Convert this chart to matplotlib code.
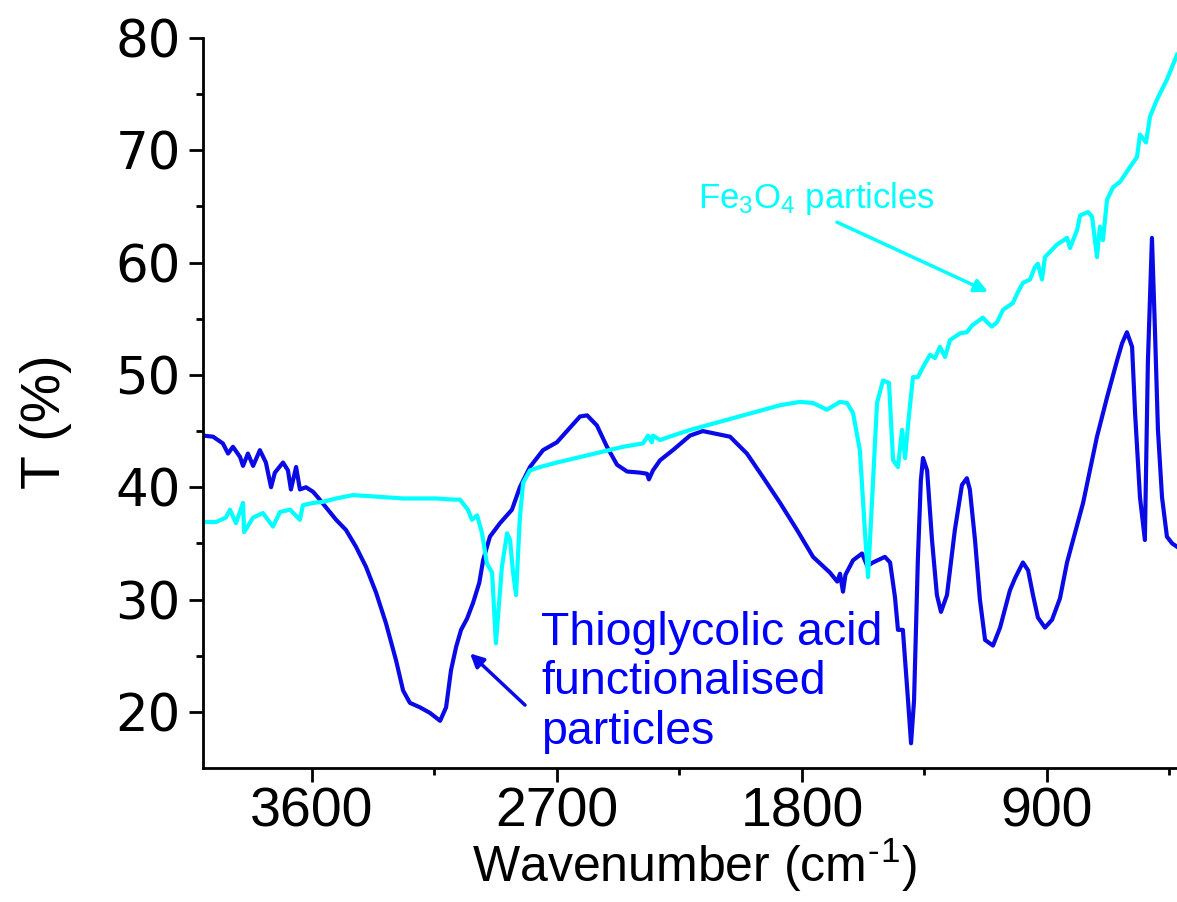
import matplotlib
matplotlib.use('Agg')
import matplotlib.pyplot as plt
from matplotlib.ticker import FixedLocator

# ---------------- data ----------------
blue_wn = [4000, 3963, 3927, 3908, 3890, 3864, 3853, 3835, 3816, 3791, 3769, 3750, 3736, 3706,
           3688, 3677, 3658, 3644, 3622, 3596, 3578, 3548, 3511, 3475, 3438, 3401, 3364, 3328,
           3291, 3265, 3240, 3203, 3166, 3129, 3107, 3089, 3070, 3052, 3030, 3008, 2985, 2971,
           2946, 2909, 2865, 2836, 2799, 2751, 2700, 2652, 2615, 2589, 2553, 2516, 2479, 2442,
           2395, 2369, 2362, 2347, 2321, 2274, 2211, 2164, 2064, 2002, 1943, 1880, 1818, 1759,
           1697, 1670, 1660, 1649, 1640, 1612, 1579, 1560, 1539, 1495, 1476, 1458, 1447, 1429,
           1410, 1399, 1388, 1374, 1363, 1355, 1340, 1322, 1304, 1289, 1267, 1238, 1212, 1194,
           1183, 1164, 1146, 1127, 1098, 1072, 1036, 1017, 988, 969, 951, 933, 907, 881, 852,
           826, 767, 716, 679, 642, 624, 606, 587, 576, 558, 540, 529, 514, 503, 492, 477, 459,
           440, 422]
blue_t = [44.6, 44.5, 43.9, 43.0, 43.6, 42.7, 41.9, 43.0, 41.9, 43.3, 42.2, 40.0, 41.3, 42.2,
          41.5, 39.8, 41.8, 39.8, 40.0, 39.6, 39.1, 38.2, 37.1, 36.2, 34.7, 32.9, 30.6, 27.9,
          24.6, 21.9, 20.8, 20.4, 19.9, 19.2, 20.4, 23.7, 25.8, 27.3, 28.3, 29.7, 31.5, 33.5,
          35.6, 36.8, 38.0, 40.0, 41.8, 43.3, 44.0, 45.3, 46.3, 46.4, 45.5, 43.6, 42.0, 41.4,
          41.3, 41.2, 40.7, 41.5, 42.4, 43.3, 44.6, 45.0, 44.5, 43.0, 40.9, 38.6, 36.2, 33.8,
          32.4, 31.6, 32.3, 30.7, 32.2, 33.5, 34.1, 33.0, 33.3, 33.8, 33.3, 30.2, 27.3, 27.3,
          21.0, 17.2, 21.0, 33.5, 40.6, 42.6, 41.5, 35.3, 30.4, 28.9, 30.4, 36.2, 40.2, 40.8,
          39.8, 35.3, 30.0, 26.4, 25.9, 27.5, 30.8, 31.9, 33.3, 32.6, 30.4, 28.4, 27.5, 28.2, 30.1,
          33.3, 38.6, 44.5, 48.0, 51.3, 52.8, 53.8, 52.5, 46.6, 39.1, 35.3, 51.1, 62.2, 54.0, 45.1,
          39.1, 35.6, 35.0, 34.7]

cyan_wn = [4000, 3952, 3916, 3901, 3879, 3853, 3849, 3816, 3780, 3743, 3717, 3680, 3644, 3633,
           3596, 3559, 3511, 3449, 3387, 3265, 3144, 3082, 3056, 3027, 3012, 2993, 2975, 2957,
           2938, 2924, 2902, 2883, 2872, 2861, 2850, 2836, 2824, 2799, 2762, 2700, 2578, 2457,
           2384, 2365, 2351, 2347, 2321, 2274, 2211, 1880, 1807, 1759, 1708, 1660, 1634, 1612,
           1587, 1568, 1557, 1542, 1524, 1502, 1480, 1465, 1447, 1432, 1421, 1407, 1392, 1374,
           1355, 1329, 1311, 1293, 1274, 1256, 1219, 1194, 1175, 1135, 1120, 1102, 1083, 1061,
           1025, 1006, 988, 962, 944, 933, 918, 907, 863, 826, 815, 789, 778, 749, 734, 716, 705,
           694, 679, 657, 631, 595, 569, 558, 536, 521, 496, 459, 422]
cyan_t = [36.9, 36.9, 37.3, 38.0, 36.8, 38.6, 36.0, 37.3, 37.7, 36.5, 37.8, 38.0, 37.1, 38.4,
          38.6, 38.7, 39.0, 39.3, 39.2, 39.0, 39.0, 38.9, 38.9, 38.0, 37.1, 37.5, 35.9, 33.2,
          32.4, 26.1, 32.9, 35.9, 35.3, 32.4, 30.4, 37.3, 40.4, 41.5, 41.8, 42.2, 42.9, 43.6,
          43.9, 44.6, 44.0, 44.6, 44.2, 44.6, 45.1, 47.3, 47.6, 47.5, 46.9, 47.6, 47.5, 46.6,
          43.3, 35.9, 32.0, 38.9, 47.5, 49.5, 49.3, 42.4, 41.8, 45.1, 42.6, 46.3, 49.8, 49.8,
          50.7, 51.8, 51.5, 52.5, 51.6, 53.1, 53.7, 53.8, 54.4, 55.1, 54.7, 54.3, 54.7, 55.8,
          56.4, 57.4, 58.2, 58.5, 59.6, 59.9, 58.5, 60.5, 61.6, 62.2, 61.3, 62.9, 64.2, 64.5,
          64.1, 60.5, 63.2, 62.0, 65.6, 66.7, 67.2, 68.5, 69.4, 71.4, 70.7, 73.0, 74.5, 76.3, 78.5]

x_major = [3600, 2700, 1800, 900]
x_minor = [3150, 2250, 1350, 450]
y_major = [20, 30, 40, 50, 60, 70, 80]
y_minor = [25, 35, 45, 55, 65, 75]

blue_label = 'Thioglycolic acid\nfunctionalised\nparticles'
cyan_label = 'Fe$_3$O$_4$ particles'
x_title = 'Wavenumber (cm$^{\u2010}$$^{1}$)'
y_title = 'T (%)'

# ---------------- style ----------------
BLUE_LINE = '#0A0AE6'
BLUE_TEXT = '#0000FF'
CYAN = '#00FFFF'

plt.rcParams['font.family'] = ['Liberation Sans', 'DejaVu Sans']
plt.rcParams['mathtext.default'] = 'regular'

fig = plt.figure(figsize=(11.77, 9.02), dpi=100)
ax = fig.add_axes([203 / 1177, 134 / 902, 974 / 1177, 730 / 902])

ax.plot(blue_wn, blue_t, color=BLUE_LINE, lw=3.0, solid_joinstyle='round')
ax.plot(cyan_wn, cyan_t, color=CYAN, lw=3.0, solid_joinstyle='round')

ax.set_xlim(4000, 422)
ax.set_ylim(15, 80)

ax.xaxis.set_major_locator(FixedLocator(x_major))
ax.xaxis.set_minor_locator(FixedLocator(x_minor))
ax.yaxis.set_major_locator(FixedLocator(y_major))
ax.yaxis.set_minor_locator(FixedLocator(y_minor))

for s in ['top', 'right']:
    ax.spines[s].set_visible(False)
for s in ['left', 'bottom']:
    ax.spines[s].set_linewidth(2)

ax.tick_params(which='major', direction='out', length=10, width=2)
ax.tick_params(which='minor', direction='out', length=5, width=2)
ax.tick_params(axis='x', which='major', labelsize=40, pad=3)
ax.tick_params(axis='y', which='major', labelsize=37, pad=6)
for lab in ax.get_yticklabels():
    lab.set_family(['DejaVu Sans'])

ax.set_xlabel(x_title, fontsize=36)
ax.set_ylabel(y_title, fontsize=40)
ax.xaxis.set_label_coords(0.505, -0.094)
ax.yaxis.set_label_coords(-0.134, 0.474)

ax.text(2758, 29.0, blue_label, color=BLUE_TEXT, fontsize=33.5, va='top', ha='left',
        linespacing=1.16)
ax.annotate('', xy=(3019, 25.2), xytext=(2817, 20.6),
            arrowprops=dict(arrowstyle='-|>', color=BLUE_LINE, lw=2.5, mutation_scale=20,
                            shrinkA=0, shrinkB=0))

ax.text(2182, 64.9, cyan_label, color=CYAN, fontsize=25, va='baseline', ha='left')
ax.annotate('', xy=(1116, 57.4), xytext=(1671, 63.6),
            arrowprops=dict(arrowstyle='-|>', color=CYAN, lw=2.5, mutation_scale=20,
                            shrinkA=0, shrinkB=0))

fig.savefig('out.png', dpi=100)
